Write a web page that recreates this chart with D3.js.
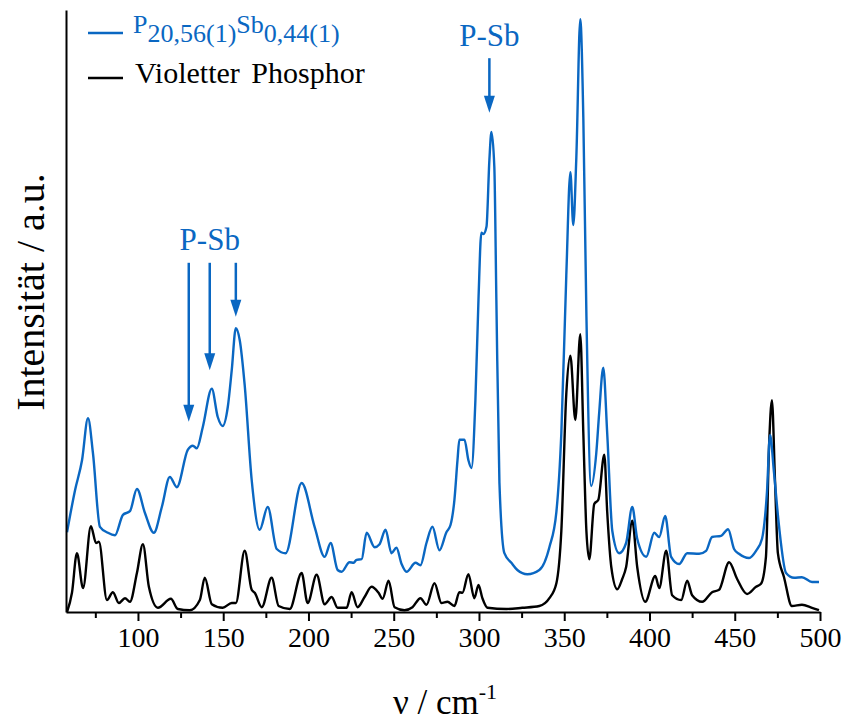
<!DOCTYPE html>
<html><head><meta charset="utf-8">
<script src="https://cdn.jsdelivr.net/npm/d3@7"></script>
</head>
<body style="margin:0"><svg id="c" width="847" height="724"></svg>
<script>
// wavenumber (cm^-1) and intensity (a.u.)
const blueX = [58.4,63.1,67.2,70.7,73.6,77.7,82.4,86.5,91.2,95.3,99.4,104.1,109.3,114.0,118.7,122.8,129.2,132.2,134.5,138.0,143.3,146.8,149.7,152.7,155.0,157.4,159.7,162.6,166.7,171.4,176.1,181.4,186.6,196.0,203.6,209.5,213.0,217.1,219.4,224.1,226.5,228.2,231.2,234.1,238.8,241.7,245.2,248.7,251.6,254.6,257.5,262.8,265.7,269.2,272.7,276.8,280.9,283.3,285.6,287.4,288.5,291.5,293.8,295.6,297.9,299.7,301.4,302.6,304.4,306.1,307.3,309.0,310.2,312.0,314.9,319.0,322.5,328.4,335.4,341.3,345.4,348.3,351.2,353.6,355.3,357.1,359.4,361.2,363.0,365.8,368.8,370.5,372.9,375.2,378.2,382.2,386.3,389.9,392.8,398.1,402.8,405.7,409.2,412.7,417.4,422.1,429.1,433.2,436.7,442.0,446.1,449.6,452.5,458.4,462.5,466.0,468.9,470.7,473.0,475.9,480.1,484.8,489.4,495.3,499.4];
const blueY = [13.3,20.3,25.3,32.3,26.5,14.2,13.2,12.8,16.2,16.8,20.5,16.5,13.2,17.5,22.5,20.8,27.0,27.7,27.3,30.8,37.2,32.5,31.0,34.2,40.3,47.3,45.3,37.8,22.0,13.7,17.5,10.5,9.8,21.5,14.2,9.2,11.5,7.0,6.7,8.3,8.2,8.7,8.8,13.2,10.8,11.3,13.7,9.8,10.7,8.0,6.7,8.2,7.8,11.5,14.2,10.3,13.3,14.5,18.7,25.3,28.7,28.7,25.3,24.0,35.3,52.0,63.2,63.0,64.2,75.3,80.0,74.2,52.0,21.5,9.8,8.2,7.0,6.3,7.0,10.8,16.7,29.8,56.0,73.3,64.5,75.8,98.8,82.3,49.5,21.0,26.5,33.2,40.7,29.8,13.5,9.8,11.5,17.5,12.2,9.2,13.2,12.5,16.0,9.2,8.0,9.8,9.7,10.2,12.5,12.7,13.8,10.5,9.7,9.0,10.2,12.2,20.0,29.5,23.3,14.5,6.5,5.7,5.8,5.0,5.0];

const blackX = [58.4,61.3,64.2,67.8,72.4,75.4,77.1,81.8,85.3,88.8,92.4,95.3,99.4,102.9,106.4,111.7,119.3,123.4,130.4,136.3,139.2,143.3,149.7,155.0,157.4,162.6,166.7,168.5,172.6,178.4,182.5,189.0,196.0,199.5,204.8,209.5,213.6,217.1,222.4,225.3,228.8,232.9,237.0,241.1,243.5,247.0,250.5,256.3,261.0,265.7,269.2,273.9,278.0,281.5,285.6,288.5,290.3,293.8,297.3,299.7,302.0,305.0,316.1,325.4,335.4,341.3,345.4,348.3,351.2,353.6,356.5,359.4,361.2,363.0,364.7,367.6,370.0,373.5,375.2,377.6,381.1,384.0,386.3,389.9,392.8,397.5,403.4,405.7,409.8,413.3,418.6,422.1,425.0,430.9,436.7,440.8,446.7,451.4,457.2,462.5,465.4,468.3,470.1,471.8,473.6,475.3,478.9,483.5,489.4,495.3,499.4];
const blackY = [0,3.2,9.8,4.0,14.3,11.5,11.7,2.0,3.3,1.5,2.3,1.7,6.5,11.3,4.2,0.7,2.2,0.5,0.3,2.0,5.7,1.3,0.7,1.5,1.5,10.2,3.7,3.2,0.8,5.7,1.0,0.5,6.5,1.5,6.2,1.3,2.5,0.7,0.7,3.3,0.8,2.5,4.2,3.2,2.2,5.2,0.8,0.3,0.8,2.3,1.2,4.8,1.5,1.7,1.0,3.3,3.2,6.3,2.3,4.5,2.3,0.7,0.5,0.7,1.0,2.3,4.8,13.5,36.3,42.7,32.0,46.3,29.8,13.5,8.8,18.0,18.7,26.2,16.7,7.5,3.8,5.5,7.5,15.2,7.5,1.7,6.0,4.0,10.2,2.8,2.0,5.2,2.8,1.7,3.3,3.7,8.3,5.5,3.0,4.2,4.7,9.2,27.5,35.3,22.0,9.8,5.8,1.0,1.2,0.7,0.3];

const xTicks = [100,150,200,250,300,350,400,450,500];
const xMinor = [75,125,175,225,275,325,375,425,475];

// P-Sb arrows: wavenumber, start (top) and tip intensity
const arrowX   = [129.8,142.1,157.4,306.1];
const arrowTop = [58.2,58.2,58.2,92.3];
const arrowTip = [31.7,40.3,49.2,83.2];
const labelX = [142.1,306.1];
const labelY = [60.3,94.4];

const blue = "#0a67c2";
const svg = d3.select("#c");
const x = d3.scaleLinear().domain([57.8,500]).range([66,820]);
const y = d3.scaleLinear().domain([0,100.33]).range([612,10]);

const line = d3.line().x(d=>x(d[0])).y(d=>y(d[1])).curve(d3.curveMonotoneX);
const blueData = blueX.map((v,i)=>[v,blueY[i]]);
const blackData = blackX.map((v,i)=>[v,blackY[i]]);

svg.append("path").attr("d",line(blackData)).attr("fill","none").attr("stroke","#000").attr("stroke-width",2.4).attr("stroke-linejoin","round");
svg.append("path").attr("d",line(blueData)).attr("fill","none").attr("stroke",blue).attr("stroke-width",2.4).attr("stroke-linejoin","round");

// axes
const gx = svg.append("g").attr("transform","translate(0,612)");
gx.call(d3.axisBottom(x).tickValues(xMinor).tickSize(6).tickSizeOuter(0).tickFormat(""));
const gx2 = svg.append("g").attr("transform","translate(0,612)");
gx2.call(d3.axisBottom(x).tickValues(xTicks).tickSize(9).tickSizeOuter(0).tickPadding(6));
[gx,gx2].forEach(g=>{
  g.attr("font-family","Liberation Serif").attr("font-size",28);
  g.select(".domain").attr("stroke-width",2);
  g.selectAll(".tick line").attr("stroke-width",2);
});
gx.select(".domain").remove();
gx2.selectAll(".tick text").style("font-family","Liberation Serif").style("font-size","28px").attr("fill","#000");
const gy = svg.append("g").attr("transform","translate(66,0)");
gy.call(d3.axisLeft(y).tickValues([]).tickSizeOuter(0));
gy.select(".domain").attr("stroke-width",2);

function T(){ return svg.append("text").style("font-family","Liberation Serif"); }

// axis titles
const xt = T().attr("x",445).attr("y",714).attr("text-anchor","middle").style("font-size","35px");
xt.append("tspan").text("ν / cm");
xt.append("tspan").attr("dy",-15).style("font-size","22px").text("-1");
T().attr("transform","translate(44,292) rotate(-90)").attr("text-anchor","middle").style("font-size","40px").text("Intensität / a.u.");

// legend
svg.append("line").attr("x1",88).attr("x2",123).attr("y1",33).attr("y2",33).attr("stroke",blue).attr("stroke-width",2.4);
const lt = T().attr("x",133).attr("y",33).style("font-size","26px").attr("fill",blue);
lt.append("tspan").text("P");
lt.append("tspan").attr("dy",9).text("20,56(1)");
lt.append("tspan").attr("dy",-9).text("Sb");
lt.append("tspan").attr("dy",9).text("0,44(1)");
svg.append("line").attr("x1",88).attr("x2",123).attr("y1",78).attr("y2",78).attr("stroke","#000").attr("stroke-width",2.4);
T().attr("x",135).attr("y",83).style("font-size","30px").style("word-spacing","4px").text("Violetter Phosphor");

// annotations
labelX.forEach((v,i)=>{
  T().attr("x",x(v)).attr("y",y(labelY[i])).attr("text-anchor","middle").style("font-size","31px").attr("fill",blue).text("P-Sb");
});
arrowX.forEach((v,i)=>{
  const xp = x(v), y0 = y(arrowTop[i]), y1 = y(arrowTip[i]);
  svg.append("line").attr("x1",xp).attr("x2",xp).attr("y1",y0).attr("y2",y1-12).attr("stroke",blue).attr("stroke-width",2.5);
  svg.append("path").attr("d",`M${xp-5.5},${y1-17}L${xp+5.5},${y1-17}L${xp},${y1}Z`).attr("fill",blue);
});
</script></body></html>
